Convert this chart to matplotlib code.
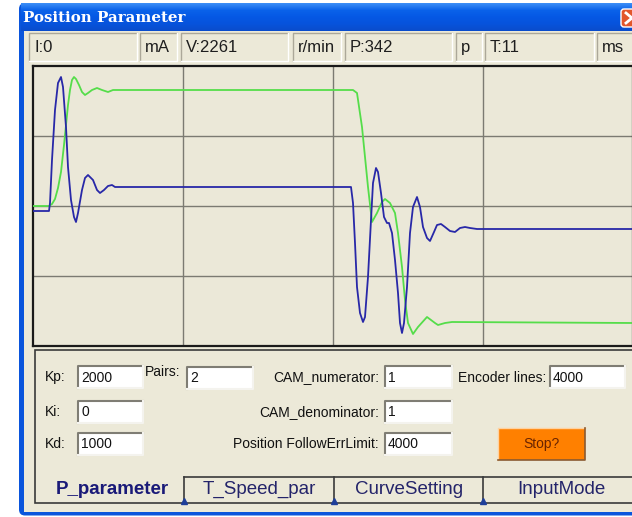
import numpy as np
import matplotlib
matplotlib.use("Agg")
import matplotlib.pyplot as plt
from matplotlib.patches import Rectangle, FancyBboxPatch
from matplotlib.colors import LinearSegmentedColormap

# scope traces
# x: sample index (grid every 150), y: scope units (grid every 70, 0 = middle line)
green_t = [0, 16, 19, 22, 25, 28, 31, 33, 35, 37, 39, 41, 43, 46, 49, 52, 55, 59, 64, 69, 75, 80,
           320, 324, 329, 332, 335, 339, 344, 349, 352, 357, 362, 365, 369, 372, 375, 380, 385,
           394, 402, 405, 412, 419, 600]
green_v = [0, 0, 2, 7, 18, 34, 61, 81, 101, 116, 126, 129, 127, 121, 114, 111, 113, 116, 118, 116, 114, 116,
           116, 113, 79, 49, 19, -16, -7, 4, 7, 3, -7, -27, -61, -94, -117, -128, -121,
           -111, -117, -119, -117, -116, -117]

blue_t = [0, 16, 17, 19, 22, 25, 28, 30, 33, 35, 38, 41, 43, 45, 49, 52, 55, 60, 64, 67, 71, 75, 79, 82,
          318, 320, 322, 324, 327, 330, 332, 335, 338, 340, 343, 345, 348, 351, 354, 356, 359, 362,
          365, 367, 369, 371, 374, 377, 380, 384, 387, 390, 394, 397, 401, 404, 408, 412, 417, 422,
          427, 432, 437, 444, 600]
blue_v = [-5, -5, 3, 46, 96, 123, 129, 119, 79, 39, 6, -11, -16, -7, 16, 28, 31, 26, 16, 13, 16, 20, 21, 19,
          19, 3, -37, -81, -107, -116, -111, -71, -14, 23, 38, 34, 13, -11, -17, -17, -27, -54,
          -87, -117, -127, -117, -81, -27, -1, 9, -1, -21, -32, -35, -26, -19, -18, -21, -25, -26,
          -22, -21, -22, -23, -23]

# status bar
status_texts = ["I:0", "mA", "V:2261", "r/min", "P:342", "p", "T:11", "ms"]

# parameter page
pid_names = ["Kp:", "Ki:", "Kd:"]
pid_values = ["2000", "0", "1000"]
cam_names = ["CAM_numerator:", "CAM_denominator:", "Position FollowErrLimit:"]
cam_values = ["1", "1", "4000"]
pairs_value = "2"
encoder_value = "4000"
tab_names = ["P_parameter", "T_Speed_par", "CurveSetting", "InputMode"]

W, H = 632, 517
BODY = "#ece9d8"
XPBLUE = "#0a55dc"
GREEN = "#55dd4a"
BLUE = "#2828a8"

plt.rcParams["font.family"] = ["Liberation Sans", "DejaVu Sans"]
fig = plt.figure(figsize=(W / 100, H / 100), dpi=100)
fig.patch.set_facecolor("white")

bg = fig.add_axes([0, 0, 1, 1])
bg.axis("off")


def rect(x0, y0, x1, y1, fc, ec="none", lw=0, z=1):
    bg.add_patch(Rectangle((x0, y0), x1 - x0, y1 - y0, facecolor=fc,
                           edgecolor=ec, linewidth=lw, zorder=z))


def sunken(x0, y0, x1, y1, fc, dark="#8c8a80", light="white", z=2, lw=1.0):
    rect(x0, y0, x1, y1, fc, z=z)
    bg.plot([x0, x0, x1], [y1, y0, y0], color=dark, lw=lw, zorder=z + 0.1)
    bg.plot([x1, x1, x0], [y0, y1, y1], color=light, lw=lw, zorder=z + 0.1)


# window frame + body
bg.add_patch(FancyBboxPatch((19, 3), W, 512.5, boxstyle="round,pad=0,rounding_size=6",
                            facecolor=XPBLUE, edgecolor="none", zorder=0.5))
rect(24, 31, W + 10, 512, BODY)

# title bar gradient
grad = LinearSegmentedColormap.from_list("xp", ["#3c8ef6", "#0a62ea", "#0558e4", "#0753dc", "#0a4ccc"])
bg.imshow(np.linspace(0, 1, 40).reshape(-1, 1), cmap=grad, aspect="auto",
          extent=(21, W + 10, 31, 3.5), zorder=0.8)
bg.text(23, 18, "Position Parameter", family="DejaVu Serif", weight="bold",
        size=10.8, color="white", va="center", ha="left", zorder=3)

# close button (only a sliver visible)
bg.add_patch(FancyBboxPatch((621, 9), 22, 18, boxstyle="round,pad=0,rounding_size=3",
                            facecolor="#e2562c", edgecolor="white", linewidth=1.0, zorder=3))
bg.plot([626, 638], [13, 23], color="white", lw=2, zorder=3.1)
bg.plot([626, 638], [23, 13], color="white", lw=2, zorder=3.1)

# status bar
cells_x = [(29, 137), (140, 177), (181, 288), (293, 341), (345, 452), (456, 482), (485, 594), (597, 660)]
for (x0, x1), s in zip(cells_x, status_texts):
    sunken(x0, 33, x1, 61, BODY, dark="#aca899")
    bg.text(x0 + 5, 47.5, s, size=12, va="center", ha="left", color="#1e1e1e", zorder=3)

# lower parameter panel
rect(35, 350, W + 10, 503, BODY, ec="#3a3a3a", lw=1.2, z=1.5)

rows = [(366, 388), (401, 423), (433, 455)]


def field(x0, x1, y0, y1, txt):
    sunken(x0, y0, x1, y1, "white", dark="#7f7d74", light="#f4f3ee", lw=1.5)
    bg.text(x0 + 3, (y0 + y1) / 2 + 0.5, txt, size=10, va="center", ha="left", color="#111111", zorder=3)


for (y0, y1), name, val, cname, cval in zip(rows, pid_names, pid_values, cam_names, cam_values):
    yc = (y0 + y1) / 2 + 0.5
    bg.text(45, yc, name, size=10, va="center", ha="left", color="#111111", zorder=3)
    field(78, 143, y0, y1, val)
    bg.text(379, yc, cname, size=10, va="center", ha="right", color="#111111", zorder=3)
    field(385, 452, y0, y1, cval)

bg.text(145, 372, "Pairs:", size=10, va="center", ha="left", color="#111111", zorder=3)
field(187, 253, 367, 389, pairs_value)
bg.text(546, 377.5, "Encoder lines:", size=10, va="center", ha="right", color="#111111", zorder=3)
field(550, 625, 366, 388, encoder_value)

# stop button
rect(498, 428, 585, 460, "#ff8000", z=2)
bg.plot([498, 498, 585], [460, 428, 428], color="#ffd2a0", lw=1, zorder=2.1)
bg.plot([585, 585, 498], [428, 460, 460], color="#8a5a30", lw=1.2, zorder=2.1)
bg.text(541.5, 444, "Stop?", size=10, va="center", ha="center", color="#6a2400", zorder=3)

# tabs along the bottom of the panel
bg.plot([184, W + 10], [477, 477], color="#3a3a3a", lw=1.2, zorder=2)
for xs in (184, 334, 483):
    bg.plot([xs, xs], [477, 503], color="#3a3a3a", lw=1.2, zorder=2)
    bg.plot([xs], [501], marker="^", ms=5, color="#1f3f9a", zorder=2.2)
tab_cx = [112, 259, 409, 561]
for i, (cx, name) in enumerate(zip(tab_cx, tab_names)):
    bg.text(cx, 489.5, name, size=13.5, va="center", ha="center",
            weight="bold" if i == 0 else "normal",
            color="#1a1a78" if i == 0 else "#24246a", zorder=3)

bg.set_xlim(0, W)
bg.set_ylim(H, 0)

# scope plot
ax = fig.add_axes([33 / W, 1 - 346 / H, 600 / W, 280 / H])
ax.set_facecolor("#ebe8d8")
ax.plot(green_t, green_v, color=GREEN, lw=1.3, zorder=3)
ax.plot(blue_t, blue_v, color=BLUE, lw=1.3, zorder=4)
ax.set_xlim(0, 600)
ax.set_ylim(-140, 140)
ax.set_xticks([150, 300, 450])
ax.set_yticks([-70, 0, 70])
ax.tick_params(length=0, labelbottom=False, labelleft=False)
ax.grid(True, color="#7b7a72", lw=1.0)
ax.set_axisbelow(True)
for sp in ax.spines.values():
    sp.set_color("#1a1a1a")
    sp.set_linewidth(1.6)

fig.savefig("out.png", dpi=100)
